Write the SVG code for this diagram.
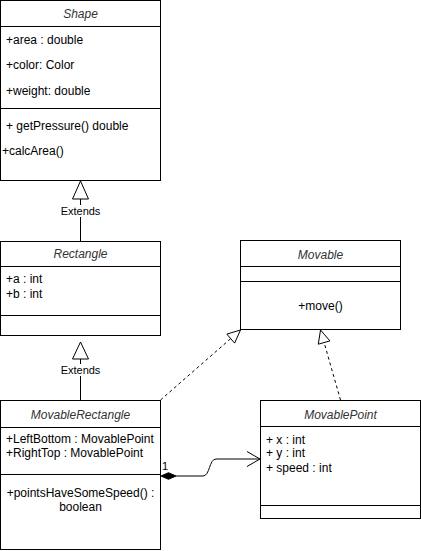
<svg xmlns="http://www.w3.org/2000/svg" width="421" height="551" viewBox="0 0 421 551">
<style>
.box{fill:#fff;stroke:#000;stroke-width:1}
.ln{stroke:#000;stroke-width:1;fill:none}
.dash{stroke:#000;stroke-width:1;fill:none;stroke-dasharray:3 3}
text{font-family:"Liberation Sans",Arial,Helvetica,sans-serif;font-size:12px;fill:#000}
.title{font-style:italic;text-anchor:middle;fill:#333}
.mid{text-anchor:middle}
.lbl{font-size:11px;text-anchor:middle}
</style>
<rect width="421" height="551" fill="#fff"/>
<g id="connectors">
  <!-- Rectangle extends Shape -->
  <line class="ln" x1="80.5" y1="199" x2="80.5" y2="241"/>
  <polygon class="box" points="80.5,181 72.5,199 88.5,199"/>
  <rect x="60" y="205" width="41" height="12" fill="#fff"/>
  <text class="lbl" x="80.5" y="215">Extends</text>
  <!-- MovableRectangle extends Rectangle -->
  <line class="ln" x1="80.5" y1="359" x2="80.5" y2="400"/>
  <polygon class="box" points="80.5,342 72.5,359 88.5,359"/>
  <rect x="60" y="364" width="41" height="12" fill="#fff"/>
  <text class="lbl" x="80.5" y="374">Extends</text>
  <!-- MovableRectangle realizes Movable -->
  <line class="dash" x1="160.5" y1="400" x2="230.7" y2="338.6"/>
  <polygon class="box" points="240.5,330 234.6,343.1 226.8,334.1"/>
  <!-- MovablePoint realizes Movable -->
  <line class="dash" x1="340.5" y1="400" x2="324.1" y2="342.5"/>
  <polygon class="box" points="320.5,330 329.9,340.9 318.3,344.2"/>
  <!-- composition -->
  <path class="ln" d="M176,476 L203,476 C210,476 209,459 216,459 L260,459"/>
  <polygon points="161,476 168.5,472.7 176,476 168.5,479.3" fill="#000" stroke="#000"/>
  <polyline class="ln" points="247,451.5 260,459 247,466.5"/>
  <text x="162" y="470" style="font-size:11px">1</text>
</g>
<g id="Shape">
  <rect class="box" x="0.5" y="0.5" width="160" height="180"/>
  <line class="ln" x1="0.5" y1="26.5" x2="160.5" y2="26.5"/>
  <line class="ln" x1="0.5" y1="108.5" x2="160.5" y2="108.5"/>
  <text class="title" x="80.5" y="18">Shape</text>
  <text x="6" y="44">+area : double</text>
  <text x="6" y="69">+color: Color</text>
  <text x="6" y="95">+weight: double</text>
  <text x="6" y="130">+ getPressure() double</text>
  <text x="2" y="155">+calcArea()</text>
</g>
<g id="Rectangle">
  <rect class="box" x="0.5" y="241.5" width="160" height="94"/>
  <line class="ln" x1="0.5" y1="266.5" x2="160.5" y2="266.5"/>
  <line class="ln" x1="0.5" y1="315.5" x2="160.5" y2="315.5"/>
  <text class="title" x="80.5" y="258">Rectangle</text>
  <text x="6" y="283">+a : int</text>
  <text x="6" y="298">+b : int</text>
</g>
<g id="MovableRectangle">
  <rect class="box" x="0.5" y="400.5" width="160" height="149"/>
  <line class="ln" x1="0.5" y1="427.5" x2="160.5" y2="427.5"/>
  <line class="ln" x1="0.5" y1="474.5" x2="160.5" y2="474.5"/>
  <text class="title" x="80.5" y="419">MovableRectangle</text>
  <text x="6" y="443">+LeftBottom : MovablePoint</text>
  <text x="6" y="457">+RightTop : MovablePoint</text>
  <text class="mid" x="80.5" y="497">+pointsHaveSomeSpeed() :</text>
  <text class="mid" x="80.5" y="511">boolean</text>
</g>
<g id="Movable">
  <rect class="box" x="240.5" y="240.5" width="160" height="89"/>
  <line class="ln" x1="240.5" y1="266.5" x2="400.5" y2="266.5"/>
  <line class="ln" x1="240.5" y1="281.5" x2="400.5" y2="281.5"/>
  <text class="title" x="320.5" y="259">Movable</text>
  <text class="mid" x="320.5" y="310">+move()</text>
</g>
<g id="MovablePoint">
  <rect class="box" x="260.5" y="400.5" width="160" height="118"/>
  <line class="ln" x1="260.5" y1="426.5" x2="420.5" y2="426.5"/>
  <line class="ln" x1="260.5" y1="505.5" x2="420.5" y2="505.5"/>
  <text class="title" x="340.5" y="419">MovablePoint</text>
  <text x="266" y="444">+ x : int</text>
  <text x="266" y="457">+ y : int</text>
  <text x="266" y="472">+ speed : int</text>
</g>
</svg>
